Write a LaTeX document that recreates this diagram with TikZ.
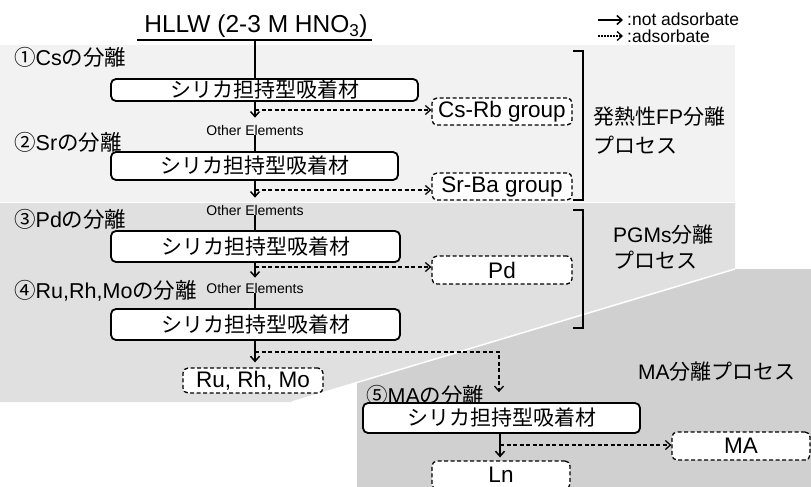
\documentclass[tikz,border=0pt]{standalone}
\usepackage{fontspec}
\setmainfont{Liberation Sans}
\newfontfamily\jpfont{Noto Sans CJK JP}
\usetikzlibrary{arrows.meta}
\definecolor{bgA}{HTML}{F2F2F2}
\definecolor{bgB}{HTML}{E0E0E0}
\definecolor{bgC}{HTML}{D0D0D0}
\newcommand\jpt[1]{{\jpfont #1}}
\begin{document}
\begin{tikzpicture}[x=1pt,y=-1pt,
  solidbox/.style={draw,line width=1.8pt,rounded corners=5pt,fill=white,inner sep=0pt,font=\fontsize{21}{21}\selectfont\jpfont},
  dbox/.style={draw,line width=1.3pt,dash pattern=on 4pt off 2.5pt,rounded corners=5pt,fill=white,inner sep=0pt,minimum width=140pt,minimum height=27pt,font=\fontsize{22.5}{22.5}\selectfont},
  flow/.style={line width=1.5pt},
  flowarr/.style={line width=1.5pt,-{Straight Barb[length=5pt,width=9pt]}},
  dflow/.style={line width=1.3pt,dash pattern=on 4pt off 2.5pt,-{Straight Barb[length=5pt,width=9pt]}},
  oelbl/.style={font=\fontsize{14}{14}\selectfont,inner sep=0pt},
  steplbl/.style={font=\fontsize{21.5}{21.5}\selectfont,anchor=west,inner sep=0pt},
  grplbl/.style={font=\fontsize{21}{21}\selectfont,anchor=west,inner sep=0pt},
  lgd/.style={font=\fontsize{17.5}{17.5}\selectfont,anchor=west,inner sep=0pt},
  brk/.style={line width=2.2pt}
]
\clip (0,0) rectangle (811,487);
% backgrounds
\fill[bgA] (0,45) rectangle (735,202);
\fill[bgB] (0,203) -- (735,203) -- (735,269) -- (292,402) -- (0,402) -- cycle;
\fill[bgC] (811,269) -- (735,269) -- (357,382.4) -- (357,487) -- (811,487) -- cycle;
\draw[white,line width=1.5pt] (292,402) -- (735,269);

% header
\node[font=\fontsize{24.5}{24.5}\selectfont,inner sep=0pt,anchor=base] (hllw) at (256,33) {HLLW (2-3 M HNO\textsubscript{3})};
\coordinate (ulL) at (137,40);
\coordinate (ulR) at (372,40);
\coordinate (top) at (255,40);
\draw[flow] (ulL) -- (ulR);

% legend
\coordinate (la1) at (598,20); \coordinate (lb1) at (623,20);
\coordinate (la2) at (598,36); \coordinate (lb2) at (623,36);
\draw[flowarr] (la1) -- (lb1);
\draw[line width=1.3pt,dash pattern=on 1.5pt off 1.5pt,-{Straight Barb[length=5pt,width=9pt]}] (la2) -- (lb2);
\node[lgd] (lg1) at (627,19.5) {:not adsorbate};
\node[lgd] (lg2) at (627,36.5) {:adsorbate};

% step labels
\node[steplbl] (s1) at (14,57.5) {\jpt{①}Cs\jpt{の分離}};
\node[steplbl] (s2) at (14,142.5) {\jpt{②}Sr\jpt{の分離}};
\node[steplbl] (s3) at (14,219) {\jpt{③}Pd\jpt{の分離}};
\node[steplbl] (s4) at (14,291) {\jpt{④}Ru,Rh,Mo\jpt{の分離}};
\node[steplbl] (s5) at (366,395) {\jpt{⑤}MA\jpt{の分離}};

% boxes
\node[solidbox,minimum width=307pt,minimum height=22pt] (b1) at (264.5,90) {シリカ担持型吸着材};
\node[solidbox,minimum width=287pt,minimum height=28pt] (b2) at (254.5,166) {シリカ担持型吸着材};
\node[solidbox,minimum width=289pt,minimum height=31pt] (b3) at (255.5,246.5) {シリカ担持型吸着材};
\node[solidbox,minimum width=289pt,minimum height=31pt] (b4) at (255.5,324.5) {シリカ担持型吸着材};
\node[solidbox,minimum width=277pt,minimum height=30pt] (b5) at (501.5,418) {シリカ担持型吸着材};

\node[dbox] (csrb) at (502,111.5) {Cs-Rb group};
\node[dbox] (srba) at (502,186.5) {Sr-Ba group};
\node[dbox,minimum height=28pt] (pd) at (502,270) {Pd};
\node[dbox,minimum height=25pt] (rrm) at (253,380.5) {Ru, Rh, Mo};
\node[dbox,minimum width=138pt,minimum height=28pt] (ma) at (741,446) {MA};
\node[dbox,minimum width=138pt,minimum height=28pt] (ln) at (501,475) {Ln};

% other elements
\node[oelbl] (oe1) at (255,130) {Other Elements};
\node[oelbl] (oe2) at (255,210) {Other Elements};
\node[oelbl] (oe3) at (255,288) {Other Elements};

% junctions
\coordinate (j1) at (255,110);
\coordinate (j2) at (255,190);
\coordinate (j3) at (255,267);
\coordinate (j4) at (255,352);
\coordinate (j5) at (500,445);
\coordinate (c5) at (499,352);

% main flow
\draw[flow] (top) -- (top |- b1.north);
\draw[flowarr,shorten >=7pt] (oe1 |- b1.south) -- (oe1.north);
\draw[flow] (oe1.south) -- (oe1 |- b2.north);
\draw[flowarr,shorten >=7pt] (oe2 |- b2.south) -- (oe2.north);
\draw[flow] (oe2.south) -- (oe2 |- b3.north);
\draw[flowarr,shorten >=5pt] (oe3 |- b3.south) -- (oe3.north);
\draw[flow] (oe3.south) -- (oe3 |- b4.north);
\draw[flowarr,shorten >=5pt] (oe3 |- b4.south) -- (oe3 |- rrm.north);
\draw[flowarr,shorten >=3pt] (j5 |- b5.south) -- (j5 |- ln.north);

% adsorbate (dashed) flows
\draw[dflow] (j1) -- (j1 -| csrb.west);
\draw[dflow] (j2) -- (j2 -| srba.west);
\draw[dflow] (j3) -- (j3 -| pd.west);
\draw[dflow,shorten >=10pt] (j4) -- (c5) -- (c5 |- b5.north);
\draw[dflow] (j5) -- (j5 -| ma.west);

% brackets
\draw[brk] (573,51) -- (583,51) -- (583,200) -- (573,200);
\draw[brk] (573,210) -- (583,210) -- (583,328) -- (573,328);

% group labels
\node[grplbl] (g1a) at (593,117) {\jpt{発熱性}FP\jpt{分離}};
\node[grplbl] (g1b) at (593,145) {\jpt{プロセス}};
\node[grplbl] (g2a) at (613,235) {PGMs\jpt{分離}};
\node[grplbl] (g2b) at (613,260) {\jpt{プロセス}};
\node[grplbl] (g3) at (638,372) {MA\jpt{分離プロセス}};
\end{tikzpicture}
\end{document}
